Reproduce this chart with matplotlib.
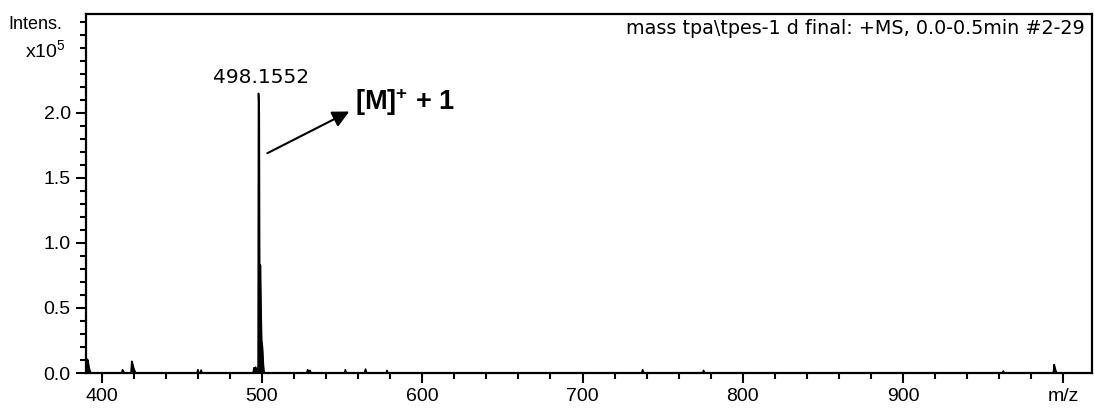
import numpy as np
import matplotlib.pyplot as plt

# spectrum trace (m/z, intensity in 1e5 units)
mz = [390.2, 390.6, 391.0, 391.4, 392.0, 392.6, 393.2,
      412.5, 413.0, 413.6, 414.2,
      418.3, 418.8, 419.3, 419.9, 420.5, 421.2,
      459.5, 460.0, 460.5, 461.5, 462.0, 462.6,
      494.5, 495.0, 495.5, 496.0, 496.5, 497.3, 497.6, 497.85, 498.3,
      498.6, 499.0, 499.4, 499.8, 500.3, 500.8, 501.3,
      528.0, 528.5, 529.0, 530.0, 530.6,
      551.5, 552.0, 552.6, 564.0, 564.6, 565.3, 577.5, 578.0, 578.6,
      737.0, 737.5, 738.3,
      775.0, 775.5, 776.3,
      962.0, 962.5, 963.2,
      993.8, 994.3, 995.0, 995.8, 1017.7]
intens = [0.0, 0.11, 0.085, 0.10, 0.05, 0.02, 0.0,
          0.0, 0.025, 0.01, 0.0,
          0.0, 0.09, 0.07, 0.04, 0.02, 0.0,
          0.0, 0.025, 0.0, 0.0, 0.022, 0.0,
          0.0, 0.04, 0.02, 0.045, 0.02, 0.03, 0.05, 2.15, 2.0,
          0.4, 0.83, 0.5, 0.25, 0.2, 0.08, 0.0,
          0.0, 0.025, 0.01, 0.02, 0.0,
          0.0, 0.025, 0.0, 0.0, 0.03, 0.0, 0.0, 0.02, 0.0,
          0.0, 0.025, 0.0,
          0.0, 0.02, 0.0,
          0.0, 0.015, 0.0,
          0.0, 0.065, 0.03, 0.0, 0.0]

peak_mz = 498.1552
peak_label = "498.1552"
x_ticks = [400, 500, 600, 700, 800, 900, 1000]
x_labels = ["400", "500", "600", "700", "800", "900", "m/z"]
y_ticks = [0.0, 0.5, 1.0, 1.5, 2.0]

plt.rcParams['font.family'] = ['Liberation Sans', 'DejaVu Sans']
plt.rcParams['mathtext.fontset'] = 'custom'
plt.rcParams['mathtext.rm'] = 'Liberation Sans'
plt.rcParams['mathtext.bf'] = 'Liberation Sans:bold'

fig = plt.figure(figsize=(10.94, 4.09), dpi=100)
ax = fig.add_axes([0.0786, 0.088, 0.9193, 0.8778])

ax.fill_between(mz, intens, 0, color='black', linewidth=0)
ax.plot(mz, intens, color='black', linewidth=1.2)

ax.set_xlim(390.2, 1017.7)
ax.set_ylim(0, 2.76)

ax.set_xticks(x_ticks)
ax.set_xticklabels(x_labels)
ax.set_xticks(np.arange(400, 1001, 20), minor=True)
ax.set_yticks(y_ticks)
ax.set_yticklabels([f"{v:.1f}" for v in y_ticks])
ax.set_yticks(np.arange(0, 2.71, 0.1), minor=True)

ax.tick_params(which='major', length=7.5, width=1.5, labelsize=14, direction='out')
ax.tick_params(which='minor', length=4.5, width=1.5, direction='out')
for s in ax.spines.values():
    s.set_linewidth(1.6)

fig.text(0.057, 0.94, "Intens.", fontsize=13, ha='right', va='center')
fig.text(0.06, 0.875, r"x10$^5$", fontsize=14, ha='right', va='center')

ax.text(0.993, 0.985, r"mass tpa\tpes-1 d final: +MS, 0.0-0.5min #2-29",
        transform=ax.transAxes, ha='right', va='top', fontsize=13.8,
        family='DejaVu Sans')

ax.text(peak_mz + 1.5, 2.2, peak_label, ha='center', va='bottom', fontsize=14.5,
        family='DejaVu Sans')

ax.annotate("", xy=(556, 2.02), xytext=(501.8, 1.68),
            arrowprops=dict(arrowstyle='-|>', color='black', lw=1.5,
                            mutation_scale=25))
ax.text(558, 2.08, r"[M]$^{\mathbf{+}}$ + 1", fontsize=19.5, fontweight='bold',
        va='center', ha='left')

fig.savefig("out.png", dpi=100)
